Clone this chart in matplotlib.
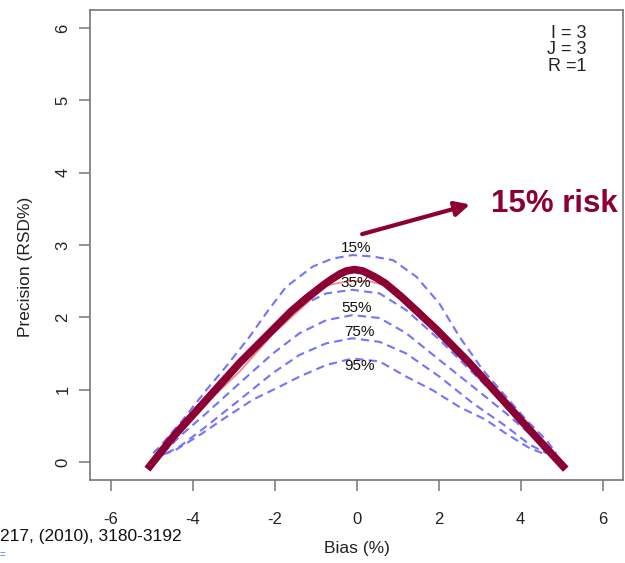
import numpy as np
import matplotlib
matplotlib.use("Agg")
import matplotlib.pyplot as plt

plt.rcParams['font.family'] = ['Liberation Sans', 'DejaVu Sans']
plt.rcParams['axes.unicode_minus'] = False

CRIMSON = '#8c0034'
BLUE = '#7373ff'
SALMON = '#f08a8a'
GRAY = '#777777'

# thick risk curve (15% risk)
risk_x = [-5.1, -4.47, -3.66, -2.85, -2.04, -1.6, -1.23, -0.8, -0.6, -0.4, -0.25, -0.05,
          0.15, 0.3, 0.5, 0.7, 1.1, 1.5, 1.95, 2.75, 3.56, 4.37, 5.1]
risk_y = [-0.1, 0.35, 0.86, 1.37, 1.83, 2.08, 2.26, 2.45, 2.53, 2.6, 2.64, 2.66,
          2.64, 2.6, 2.54, 2.47, 2.28, 2.07, 1.83, 1.37, 0.86, 0.35, -0.1]

# thin raw curve under the thick one
raw_x = [-5.05, -4.3, -3.5, -2.85, -2.04, -1.4, -0.74, -0.2, 0.3, 0.7, 1.5, 2.5, 3.5, 4.4, 5.05]
raw_y = [-0.08, 0.4, 0.9, 1.25, 1.77, 2.1, 2.44, 2.5, 2.5, 2.44, 2.02, 1.53, 0.9, 0.38, -0.08]

# dashed contour curves, one per risk level
levels = ['15%', '35%', '55%', '75%', '95%']
c15_x = [-4.96, -4.8, -4.24, -3.67, -3.18, -2.61, -2.2, -1.72, -1.07, -0.6, -0.1,
         0.4, 0.89, 1.46, 2.02, 2.51, 3.08, 3.57, 4.14, 4.63, 4.87]
c15_y = [0.12, 0.21, 0.58, 0.99, 1.32, 1.73, 2.06, 2.42, 2.7, 2.81, 2.86,
         2.84, 2.79, 2.56, 2.19, 1.73, 1.27, 0.95, 0.58, 0.3, 0.12]
c35_x = [-4.8, -4.32, -3.67, -2.85, -2.04, -1.39, -0.74, -0.1, 0.56, 1.21, 2.02, 2.84, 3.65, 4.3, 4.71]
c35_y = [0.12, 0.39, 0.81, 1.32, 1.83, 2.15, 2.33, 2.38, 2.33, 2.1, 1.69, 1.23, 0.77, 0.39, 0.12]
c55_x = [-4.72, -4.32, -3.67, -2.85, -2.04, -1.39, -0.74, -0.1, 0.56, 1.21, 2.02, 2.84, 3.65, 4.3, 4.63]
c55_y = [0.12, 0.35, 0.67, 1.09, 1.5, 1.78, 1.96, 2.03, 1.99, 1.78, 1.41, 1.04, 0.67, 0.35, 0.12]
c75_x = [-4.64, -4.32, -3.67, -2.85, -2.04, -1.39, -0.74, -0.1, 0.56, 1.21, 2.02, 2.84, 3.65, 4.22, 4.63]
c75_y = [0.12, 0.21, 0.49, 0.86, 1.23, 1.48, 1.64, 1.71, 1.66, 1.5, 1.18, 0.81, 0.49, 0.24, 0.12]
c95_x = [-4.72, -4.4, -3.83, -3.18, -2.53, -1.88, -1.39, -0.74, -0.1,
         0.56, 1.21, 1.86, 2.51, 3.16, 3.65, 4.22, 4.63]
c95_y = [0.1, 0.17, 0.37, 0.62, 0.86, 1.04, 1.18, 1.34, 1.43,
         1.39, 1.18, 0.99, 0.76, 0.58, 0.39, 0.19, 0.1]
contours = [(c15_x, c15_y), (c35_x, c35_y), (c55_x, c55_y), (c75_x, c75_y), (c95_x, c95_y)]
label_pos = [(-0.02, 2.96), (-0.02, 2.48), (0.0, 2.13), (0.07, 1.79), (0.07, 1.32)]

fig = plt.figure(figsize=(6.25, 5.63), dpi=100)
ax = fig.add_axes([0.144, 0.1474, 0.853, 0.835])

for (cx, cy) in contours:
    ax.plot(cx, cy, color=BLUE, lw=1.5, dashes=(4, 2.5))
for lab, (lx, ly) in zip(levels, label_pos):
    ax.text(lx, ly, lab, ha='center', va='center', fontsize=11, color='#111111')

ax.plot(raw_x, raw_y, color=SALMON, lw=1.3)
ax.plot(risk_x, risk_y, color=CRIMSON, lw=5.5, solid_capstyle='butt', solid_joinstyle='round')

ax.annotate('', xy=(2.83, 3.57), xytext=(0.07, 3.14),
            arrowprops=dict(arrowstyle='-|>', color=CRIMSON, lw=3, mutation_scale=22))
ax.text(0.99, 0.587, '15% risk', transform=ax.transAxes, ha='right', va='center',
        fontsize=22.5, fontweight='bold', color=CRIMSON)

ax.text(0.932, 0.968, 'I = 3\nJ = 3\nR =1', transform=ax.transAxes, ha='right', va='top',
        fontsize=13, linespacing=0.95, color='#222222')

ax.set_xlim(-6.5, 6.5)
ax.set_ylim(-0.25, 6.25)
ax.set_xticks(np.arange(-6, 7, 2))
ax.set_yticks(np.arange(0, 7, 1))
for s in ax.spines.values():
    s.set_color(GRAY)
    s.set_linewidth(1.2)
ax.tick_params(axis='both', length=8, width=1.1, color=GRAY, labelsize=12, labelcolor='#222222')
ax.tick_params(axis='x', pad=15)
ax.tick_params(axis='y', pad=6, labelrotation=90)
for t in ax.get_yticklabels():
    t.set_va('center')

ax.set_xlabel('Bias (%)', fontsize=12.5, color='#222222')
ax.xaxis.set_label_coords(0.501, -0.13)
ax.set_ylabel('Precision (RSD%)', fontsize=12.5, color='#222222')
ax.yaxis.set_label_coords(-0.107, 0.453)

fig.text(0.0, 1 - 537 / 563, '217, (2010), 3180-3192', ha='left', va='center',
         fontsize=12.5, color='#111111')
fig.text(0.0, 1 - 555 / 563, '=', ha='left', va='center', fontsize=7, color='#4a7fc0')

fig.savefig('out.png', dpi=100)
